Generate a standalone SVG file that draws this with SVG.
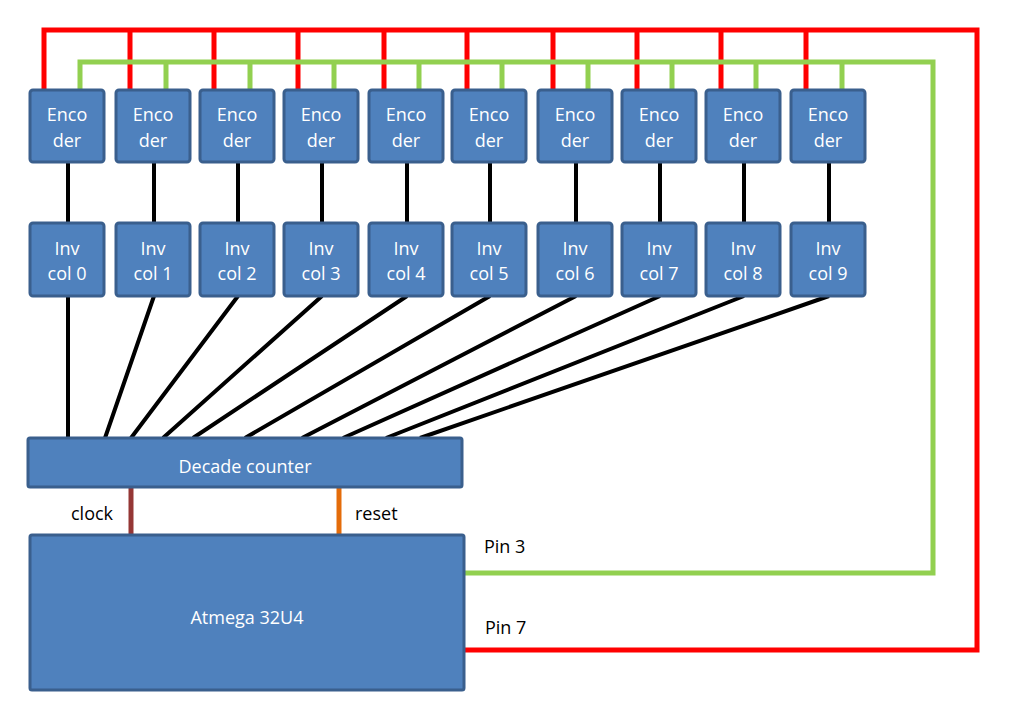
<svg xmlns="http://www.w3.org/2000/svg" width="1027" height="725" viewBox="0 0 1027 725">
<style>
.b{fill:#4F81BD;stroke:#3A5F8D;stroke-width:3}
.t{font-family:"Open Sans","Liberation Sans",sans-serif;fill:#fff;text-anchor:middle;font-size:18px}
.l{font-family:"Open Sans","Liberation Sans",sans-serif;fill:#000;font-size:18px}
.k{stroke:#000;stroke-width:4;fill:none}
.r{stroke:#f00;stroke-width:5;fill:none}
.g{stroke:#92D050;stroke-width:5;fill:none}
</style>
<rect width="1027" height="725" fill="#fff"/>
<g id="connectors">
<path class="r" d="M44 89V30H977V650H464"/>
<path class="r" d="M130 89V30M214 89V30M298 89V30M384 89V30M467 89V30M553 89V30M637 89V30M721 89V30M806 89V30"/>
<path class="g" d="M80 89V62H933V573H462"/>
<path class="g" d="M166 89V62M250 89V62M334 89V62M419 89V62M502 89V62M588 89V62M672 89V62M756 89V62M842 89V62"/>
<path class="k" d="M68 162V222M154 162V222M238 162V222M322 162V222M407 162V222M490 162V222M576 162V222M660 162V222M744 162V222M829 162V222"/>
<path class="k" d="M68 296V438M154 296L105 438M238 296L131 438M322 296L163 438M407 296L193 438M490 296L245 438M576 296L302 438M660 296L343 438M744 296L386 438M829 296L420 438"/>
<path d="M131 487V534" stroke="#953735" stroke-width="5"/>
<path d="M339 487V534" stroke="#E46C0A" stroke-width="5"/>
</g>
<g id="enc0"><rect class="b" x="30" y="90" width="74" height="72" rx="3"/><text class="t" x="67" y="121">Enco</text><text class="t" x="67" y="147">der</text></g>
<g id="enc1"><rect class="b" x="116" y="90" width="74" height="72" rx="3"/><text class="t" x="153" y="121">Enco</text><text class="t" x="153" y="147">der</text></g>
<g id="enc2"><rect class="b" x="200" y="90" width="74" height="72" rx="3"/><text class="t" x="237" y="121">Enco</text><text class="t" x="237" y="147">der</text></g>
<g id="enc3"><rect class="b" x="284" y="90" width="74" height="72" rx="3"/><text class="t" x="321" y="121">Enco</text><text class="t" x="321" y="147">der</text></g>
<g id="enc4"><rect class="b" x="369" y="90" width="74" height="72" rx="3"/><text class="t" x="406" y="121">Enco</text><text class="t" x="406" y="147">der</text></g>
<g id="enc5"><rect class="b" x="452" y="90" width="74" height="72" rx="3"/><text class="t" x="489" y="121">Enco</text><text class="t" x="489" y="147">der</text></g>
<g id="enc6"><rect class="b" x="538" y="90" width="74" height="72" rx="3"/><text class="t" x="575" y="121">Enco</text><text class="t" x="575" y="147">der</text></g>
<g id="enc7"><rect class="b" x="622" y="90" width="74" height="72" rx="3"/><text class="t" x="659" y="121">Enco</text><text class="t" x="659" y="147">der</text></g>
<g id="enc8"><rect class="b" x="706" y="90" width="74" height="72" rx="3"/><text class="t" x="743" y="121">Enco</text><text class="t" x="743" y="147">der</text></g>
<g id="enc9"><rect class="b" x="791" y="90" width="74" height="72" rx="3"/><text class="t" x="828" y="121">Enco</text><text class="t" x="828" y="147">der</text></g>
<g id="inv0"><rect class="b" x="30" y="223" width="74" height="73" rx="3"/><text class="t" x="67" y="255">Inv</text><text class="t" x="67" y="280">col 0</text></g>
<g id="inv1"><rect class="b" x="116" y="223" width="74" height="73" rx="3"/><text class="t" x="153" y="255">Inv</text><text class="t" x="153" y="280">col 1</text></g>
<g id="inv2"><rect class="b" x="200" y="223" width="74" height="73" rx="3"/><text class="t" x="237" y="255">Inv</text><text class="t" x="237" y="280">col 2</text></g>
<g id="inv3"><rect class="b" x="284" y="223" width="74" height="73" rx="3"/><text class="t" x="321" y="255">Inv</text><text class="t" x="321" y="280">col 3</text></g>
<g id="inv4"><rect class="b" x="369" y="223" width="74" height="73" rx="3"/><text class="t" x="406" y="255">Inv</text><text class="t" x="406" y="280">col 4</text></g>
<g id="inv5"><rect class="b" x="452" y="223" width="74" height="73" rx="3"/><text class="t" x="489" y="255">Inv</text><text class="t" x="489" y="280">col 5</text></g>
<g id="inv6"><rect class="b" x="538" y="223" width="74" height="73" rx="3"/><text class="t" x="575" y="255">Inv</text><text class="t" x="575" y="280">col 6</text></g>
<g id="inv7"><rect class="b" x="622" y="223" width="74" height="73" rx="3"/><text class="t" x="659" y="255">Inv</text><text class="t" x="659" y="280">col 7</text></g>
<g id="inv8"><rect class="b" x="706" y="223" width="74" height="73" rx="3"/><text class="t" x="743" y="255">Inv</text><text class="t" x="743" y="280">col 8</text></g>
<g id="inv9"><rect class="b" x="791" y="223" width="74" height="73" rx="3"/><text class="t" x="828" y="255">Inv</text><text class="t" x="828" y="280">col 9</text></g>
<g id="decade"><rect class="b" x="28" y="438" width="434" height="49" rx="2"/><text class="t" x="245" y="473" font-size="28">Decade counter</text></g>
<g id="atmega"><rect class="b" x="30" y="535" width="434" height="155" rx="2"/><text class="t" x="247" y="624" font-size="30">Atmega 32U4</text></g>
<text class="l" x="71" y="520">clock</text>
<text class="l" x="355" y="520">reset</text>
<text class="l" x="484" y="553">Pin 3</text>
<text class="l" x="485" y="634">Pin 7</text>
</svg>
